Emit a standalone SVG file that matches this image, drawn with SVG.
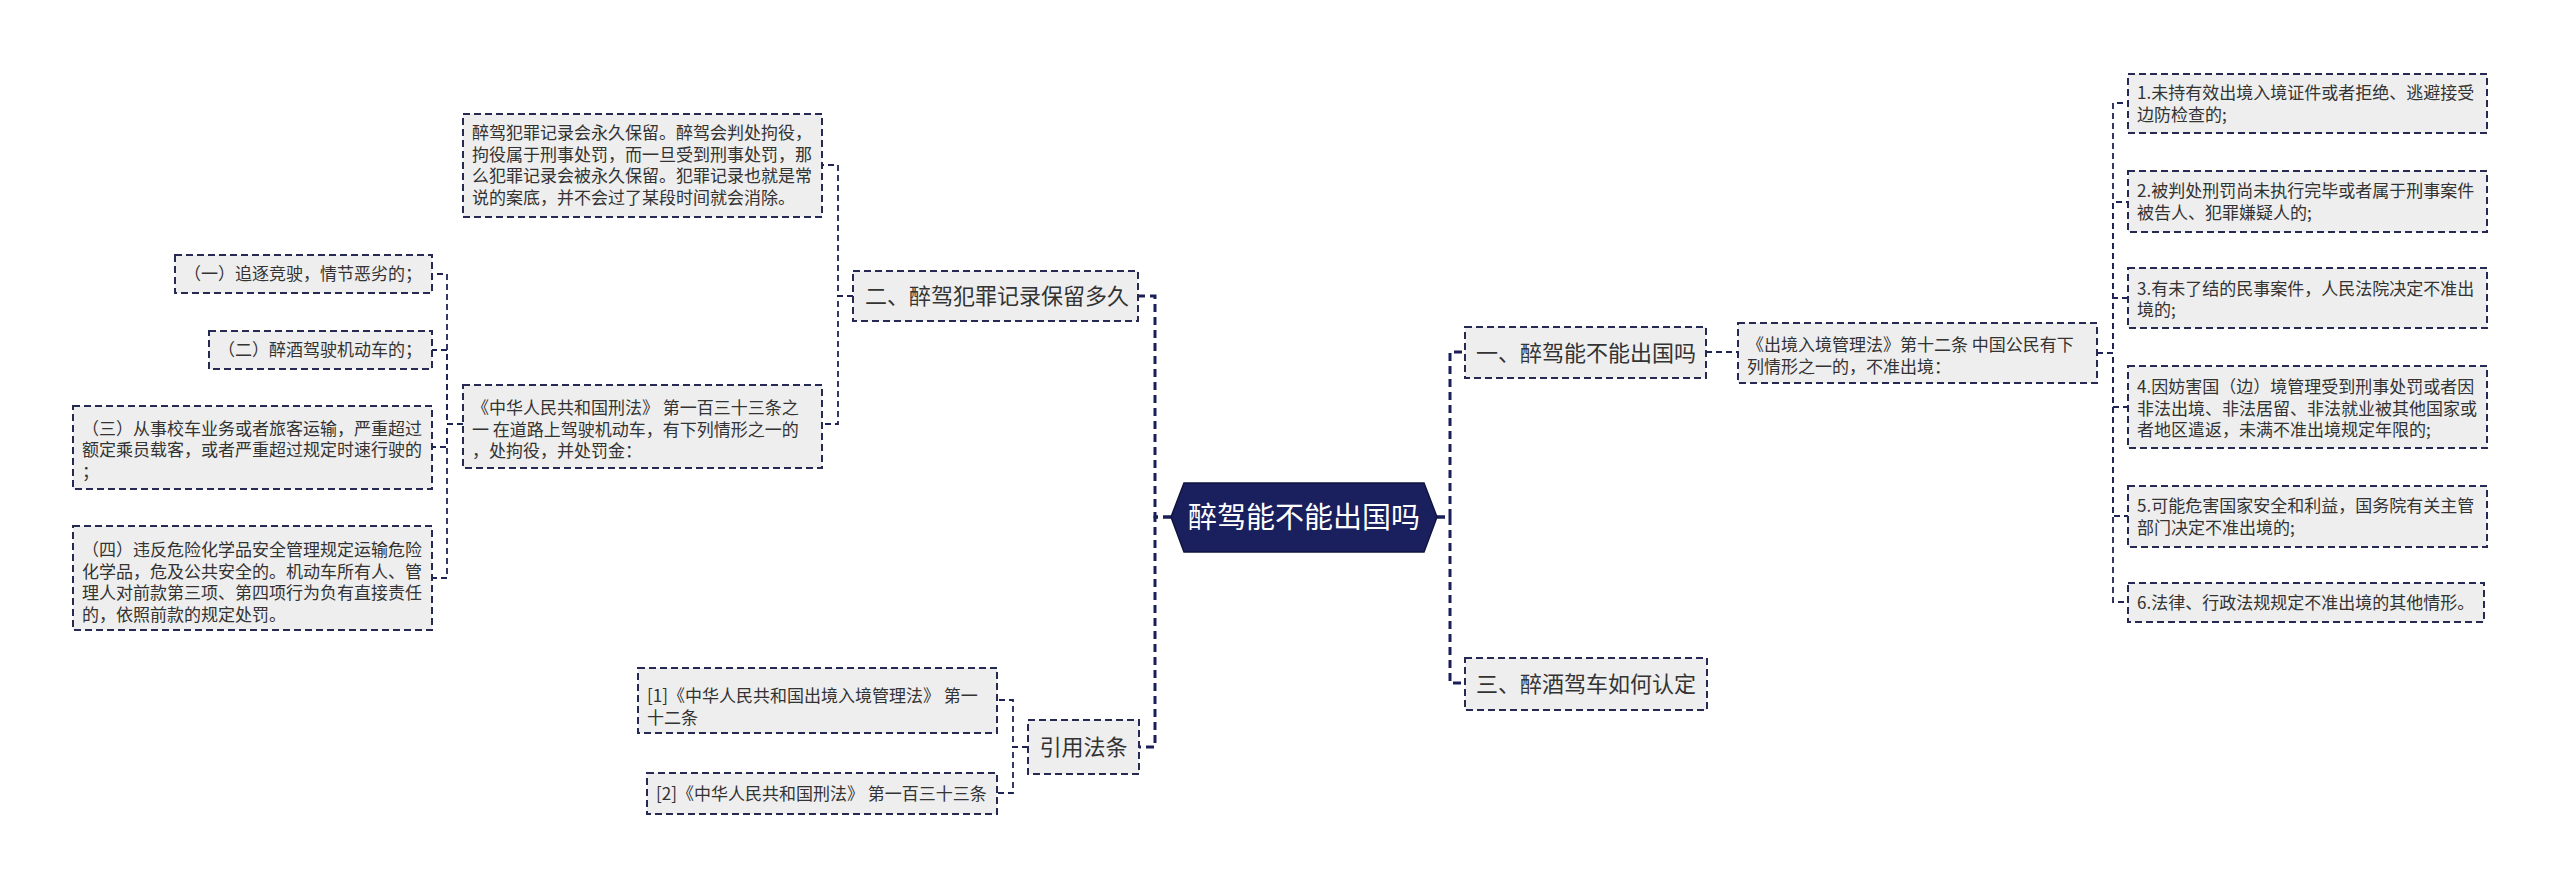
<svg xmlns="http://www.w3.org/2000/svg" width="2560" height="877" viewBox="0 0 2560 877">
<style>
.bg{fill:#ffffff}
.box{fill:#eeeeee;stroke:#262a52;stroke-width:2;stroke-dasharray:7 4}
.box1{fill:#eeeeee;stroke:#262a52;stroke-width:2;stroke-dasharray:7 4}
.t{font-family:"Noto Sans CJK SC","Noto Sans",sans-serif;font-size:17px;fill:#333333}
.t1{font-family:"Noto Sans CJK SC","Noto Sans",sans-serif;font-size:22px;fill:#333333}
.tr{font-family:"Noto Sans CJK SC","Noto Sans",sans-serif;font-size:29px;fill:#ffffff}
.c{fill:none;stroke:#1e2356;stroke-width:1.8;stroke-dasharray:6 4}
.ct{fill:none;stroke:#1a1f5a;stroke-width:3;stroke-dasharray:8 5}
</style>
<rect class="bg" x="0" y="0" width="2560" height="877"/>
<g id="connectors">
<path class="ct" d="M1171,517 H1155 V296 H1138"/>
<path class="ct" d="M1171,517 H1155 V747 H1139"/>
<path class="ct" d="M1437,517 H1450 V352 H1465"/>
<path class="ct" d="M1437,517 H1450 V683 H1465"/>
<path class="c" d="M853,296 H838 V165 H822"/>
<path class="c" d="M853,296 H838 V424 H822"/>
<path class="c" d="M463,424 H447 V274 H432"/>
<path class="c" d="M463,424 H447 V350 H432"/>
<path class="c" d="M463,424 H447 V447 H432"/>
<path class="c" d="M463,424 H447 V578 H432"/>
<path class="c" d="M1028,747 H1013 V700 H997"/>
<path class="c" d="M1028,747 H1013 V793 H997"/>
<path class="c" d="M1706,352 H1738"/>
<path class="c" d="M2097,353 H2113 V103 H2128"/>
<path class="c" d="M2097,353 H2113 V202 H2128"/>
<path class="c" d="M2097,353 H2113 V298 H2128"/>
<path class="c" d="M2097,353 H2113 V407 H2128"/>
<path class="c" d="M2097,353 H2113 V516 H2128"/>
<path class="c" d="M2097,353 H2113 V602 H2128"/>
</g>
<g id="root">
<polygon points="1171,517 1184,483 1424,483 1437,517 1424,552 1184,552" fill="#1a1f5e" stroke="#10153f" stroke-width="1.5"/>
<text class="tr" x="1304" y="528" text-anchor="middle">醉驾能不能出国吗</text>
</g>
<g id="n2">
<rect class="box1" x="853" y="271" width="285" height="50"/>
<text class="t1" x="865" y="304">二、醉驾犯罪记录保留多久</text>
</g>
<g id="n2a">
<rect class="box" x="463" y="114" width="359" height="103"/>
<text class="t" x="472" y="139">醉驾犯罪记录会永久保留。醉驾会判处拘役，</text>
<text class="t" x="472" y="160.5">拘役属于刑事处罚，而一旦受到刑事处罚，那</text>
<text class="t" x="472" y="182">么犯罪记录会被永久保留。犯罪记录也就是常</text>
<text class="t" x="472" y="203.5">说的案底，并不会过了某段时间就会消除。</text>
</g>
<g id="n2b">
<rect class="box" x="463" y="385" width="359" height="83"/>
<text class="t" x="472" y="414">《中华人民共和国刑法》 第一百三十三条之</text>
<text class="t" x="472" y="435.5">一 在道路上驾驶机动车，有下列情形之一的</text>
<text class="t" x="472" y="457">，处拘役，并处罚金：</text>
</g>
<g id="n2b1">
<rect class="box" x="175" y="255" width="257" height="38"/>
<text class="t" x="184" y="280">（一）追逐竞驶，情节恶劣的；</text>
</g>
<g id="n2b2">
<rect class="box" x="209" y="331" width="223" height="38"/>
<text class="t" x="218" y="356">（二）醉酒驾驶机动车的；</text>
</g>
<g id="n2b3">
<rect class="box" x="73" y="406" width="359" height="83"/>
<text class="t" x="82" y="434.5">（三）从事校车业务或者旅客运输，严重超过</text>
<text class="t" x="82" y="456">额定乘员载客，或者严重超过规定时速行驶的</text>
<text class="t" x="82" y="477.5">；</text>
</g>
<g id="n2b4">
<rect class="box" x="73" y="526" width="359" height="104"/>
<text class="t" x="82" y="556">（四）违反危险化学品安全管理规定运输危险</text>
<text class="t" x="82" y="577.5">化学品，危及公共安全的。机动车所有人、管</text>
<text class="t" x="82" y="599">理人对前款第三项、第四项行为负有直接责任</text>
<text class="t" x="82" y="620.5">的，依照前款的规定处罚。</text>
</g>
<g id="n4">
<rect class="box1" x="1028" y="720" width="111" height="54"/>
<text class="t1" x="1083.5" y="755" text-anchor="middle">引用法条</text>
</g>
<g id="n4a">
<rect class="box" x="638" y="668" width="359" height="65"/>
<text class="t" x="647" y="702">[1]《中华人民共和国出境入境管理法》 第一</text>
<text class="t" x="647" y="723.5">十二条</text>
</g>
<g id="n4b">
<rect class="box" x="647" y="773" width="350" height="41"/>
<text class="t" x="656" y="800">[2]《中华人民共和国刑法》 第一百三十三条</text>
</g>
<g id="n1">
<rect class="box1" x="1465" y="327" width="241" height="51"/>
<text class="t1" x="1476" y="360.5">一、醉驾能不能出国吗</text>
</g>
<g id="n3">
<rect class="box1" x="1465" y="658" width="242" height="52"/>
<text class="t1" x="1476" y="692">三、醉酒驾车如何认定</text>
</g>
<g id="n1a">
<rect class="box" x="1738" y="323" width="359" height="60"/>
<text class="t" x="1747" y="351">《出境入境管理法》第十二条 中国公民有下</text>
<text class="t" x="1747" y="372.5">列情形之一的，不准出境：</text>
</g>
<g id="i1">
<rect class="box" x="2128" y="74" width="359" height="59"/>
<text class="t" x="2137" y="99">1.未持有效出境入境证件或者拒绝、逃避接受</text>
<text class="t" x="2137" y="120.5">边防检查的;</text>
</g>
<g id="i2">
<rect class="box" x="2128" y="171" width="359" height="61"/>
<text class="t" x="2137" y="197">2.被判处刑罚尚未执行完毕或者属于刑事案件</text>
<text class="t" x="2137" y="218.5">被告人、犯罪嫌疑人的;</text>
</g>
<g id="i3">
<rect class="box" x="2128" y="268" width="359" height="60"/>
<text class="t" x="2137" y="294.5">3.有未了结的民事案件，人民法院决定不准出</text>
<text class="t" x="2137" y="316">境的;</text>
</g>
<g id="i4">
<rect class="box" x="2128" y="366" width="359" height="82"/>
<text class="t" x="2137" y="393">4.因妨害国（边）境管理受到刑事处罚或者因</text>
<text class="t" x="2137" y="414.5">非法出境、非法居留、非法就业被其他国家或</text>
<text class="t" x="2137" y="436">者地区遣返，未满不准出境规定年限的;</text>
</g>
<g id="i5">
<rect class="box" x="2128" y="486" width="359" height="61"/>
<text class="t" x="2137" y="512">5.可能危害国家安全和利益，国务院有关主管</text>
<text class="t" x="2137" y="533.5">部门决定不准出境的;</text>
</g>
<g id="i6">
<rect class="box" x="2128" y="583" width="356" height="39"/>
<text class="t" x="2137" y="608.5">6.法律、行政法规规定不准出境的其他情形。</text>
</g>
</svg>
